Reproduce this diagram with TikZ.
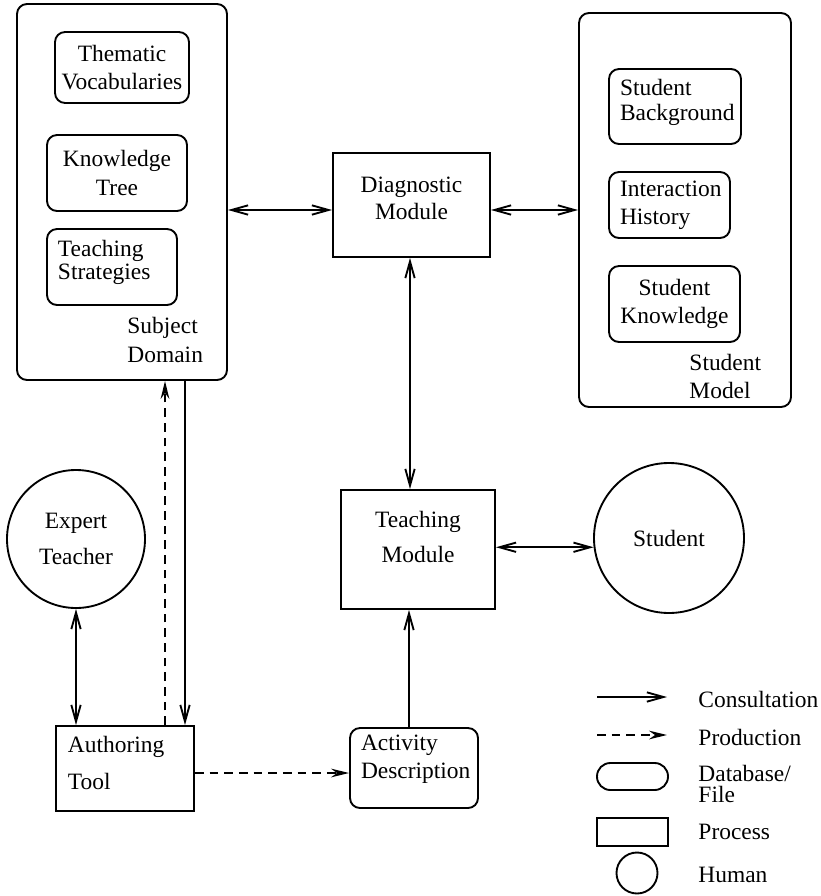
\documentclass[tikz,border=0pt]{standalone}
\usepackage{fontspec}
\setmainfont{Liberation Serif}
\usetikzlibrary{arrows.meta,scopes}
\hyphenpenalty=10000
% invisible strut that lowers the bottom of a node's text
\newcommand{\pushup}[1]{\rule[-#1]{0pt}{0pt}}
\tikzset{sz/.style 2 args={minimum width=#1*0.15mm, minimum height=#2*0.15mm}}

\begin{document}
\begin{tikzpicture}[x=0.15mm, y=-0.15mm,
    db/.style={draw, line width=0.8pt, rounded corners=1.5mm, inner sep=1mm},
    proc/.style={draw, line width=0.8pt, rectangle, inner sep=1mm},
    human/.style={draw, line width=0.8pt, circle, inner sep=0pt},
    lbl/.style={inner sep=0pt, anchor=west, align=left},
    cons/.style={line width=0.8pt, >={Straight Barb[length=2.5mm,width=1.4mm]}},
    prod/.style={line width=0.8pt, dash pattern=on 1.3mm off 0.9mm,
        >={Stealth[length=2.7mm,width=1.3mm,inset=0.9mm]}},
]
    \fill[white] (0,0) rectangle (821,896);
    \useasboundingbox (0,0) rectangle (821,896);

    %%%
    % Subject domain
    \node[db, sz={210}{376}] (sd) at (122,192) {};
    \node[db, sz={132}{71}, align=center] (tv) at (122,67.5) {Thematic\\Vocabularies};
    \node[db, sz={140}{76}, align=center] (kt) at (117,173) {Knowledge\\Tree};
    \node[db, sz={130}{76}, align=left, text width=16.2mm] (ts) at (112,267)
        {Teaching\\[-2.4pt]Strategies\pushup{2.2mm}};
    \node[lbl] (sdlbl) at (127,340) {Subject\\Domain};

    %%%
    % Student model
    \node[db, sz={212}{394}] (sm) at (685,210) {};
    \node[db, sz={132}{75}, align=left, text width=16.5mm] (sb) at (675,106.5)
        {Student\\[-1pt]Background\pushup{2mm}};
    \node[db, sz={121}{66}, align=left, text width=14.85mm] (ih) at (669.5,205)
        {Interaction\\History};
    \node[db, sz={131}{76}, align=center] (sk) at (674.5,304) {Student\\Knowledge};
    \node[lbl] (smlbl) at (689,376.5) {Student\\Model};

    %%%
    % Processes and humans
    \node[proc, sz={157}{104}, align=center] (dm) at (411.5,205)
        {Diagnostic\\[-0.5pt]Module\pushup{2mm}};
    \node[proc, sz={154}{119}, align=center] (tm) at (418,549.5)
        {Teaching\\[2.9pt]Module\pushup{3.9mm}};
    \node[human, minimum size=22.5mm] (st) at (669,538) {Student};
    \node[human, minimum size=20.7mm, align=center] (et) at (76,539)
        {Expert\\[3.7pt]Teacher};
    \node[proc, sz={138}{85}, align=left, text width=17.1mm] (at) at (125,768.5)
        {Authoring\\[3.7pt]Tool\pushup{1.8mm}};
    \node[db, sz={128}{80}, align=left, text width=15.9mm] (ad) at (414,768)
        {Activity\\Description\pushup{3.3mm}};

    %%%
    % Connections
    {[cons,<->]
        \draw (sd.east |- 0,210) -- (dm.west |- 0,210);
        \draw (dm.east |- 0,210) -- (sm.west |- 0,210);
        \draw (dm.south -| 410,0) -- (tm.north -| 410,0);
        \draw (tm.east |- st.187) -- (st.187);
        \draw (et.south) -- (at.north -| et.south);
    }
    {[cons,->]
        \draw (ad.north -| 409,0) -- (tm.south -| 409,0);
        \draw (sd.south -| 185,0) -- (at.north -| 185,0);
    }
    {[prod,->]
        \draw (at.east |- 0,773) -- (ad.west |- 0,773);
        \draw (at.north -| 165,0) -- (sd.south -| 165,0);
    }

    %%%
    % Legend
    \coordinate (c1) at (597,697);
    \coordinate (c2) at (667,697);
    \coordinate (p1) at (597,735);
    \coordinate (p2) at (667,735);
    \draw[cons,->] (c1) -- (c2);
    \draw[prod,->] (p1) -- (p2);
    \node[db, rounded corners=2mm, sz={71}{27}] (kdb) at (632.5,776.5) {};
    \node[proc, sz={71}{28}] (kproc) at (632.5,832) {};
    \node[human, minimum size=6.15mm] (khum) at (637,873) {};
    \node[lbl] (lcons) at (698,699) {Consultation};
    \node[lbl] (lprod) at (698,737) {Production};
    \node[lbl] (ldb) at (698,784) {Database/\\[-3pt]File};
    \node[lbl] (lproc) at (698,832) {Process};
    \node[lbl] (lhum) at (698,875) {Human};

\end{tikzpicture}
\end{document}
